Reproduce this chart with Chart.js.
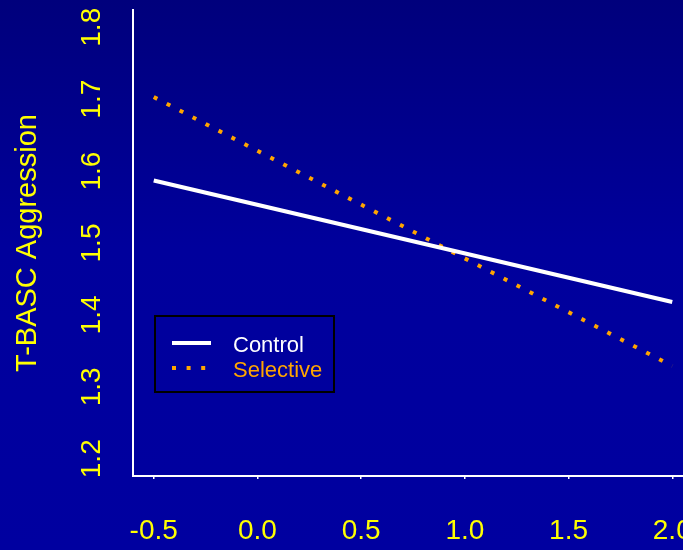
<!DOCTYPE html>
<html>
<head>
<meta charset="utf-8">
<script src="https://cdn.jsdelivr.net/npm/chart.js@4/dist/chart.umd.min.js"></script>
<style>
  html, body { margin: 0; padding: 0; overflow: hidden; background: #000090; }
  #wrap { width: 700px; height: 550px; }
</style>
</head>
<body>
<div id="wrap"><canvas id="c" width="700" height="550"></canvas></div>
<script>
// 데이터 — 그림에서 읽은 값
const X_VALUES = [-0.5, 2.0];
const CONTROL = [1.587, 1.418];
const SELECTIVE = [1.703, 1.329];
const X_TICKS = [-0.5, 0.0, 0.5, 1.0, 1.5, 2.0];
const Y_TICKS = [1.2, 1.3, 1.4, 1.5, 1.6, 1.7, 1.8];
const SERIES_NAMES = ['Control', 'Selective'];
const Y_TITLE = 'T-BASC Aggression';

const YELLOW = '#FFFF00';
const ORANGE = '#FFA500';
const FONT = '"Liberation Sans", Arial, sans-serif';
const DOTS = [4, 10.6];

const toPoints = (ys) => X_VALUES.map((x, i) => ({ x, y: ys[i] }));

// 배경 그라데이션 + 회전된 y 눈금/제목 + 범례
const decor = {
  id: 'decor',
  beforeDraw(chart) {
    const { ctx, width, height } = chart;
    const g = ctx.createLinearGradient(0, 0, 0, height);
    g.addColorStop(0, '#00007C');
    g.addColorStop(0.45, '#00009C');
    g.addColorStop(1, '#0000A0');
    ctx.save();
    ctx.fillStyle = g;
    ctx.fillRect(0, 0, width, height);
    ctx.restore();
  },
  afterDraw(chart) {
    const { ctx } = chart;
    const y = chart.scales.y;
    ctx.save();
    ctx.fillStyle = YELLOW;
    ctx.textAlign = 'center';
    ctx.textBaseline = 'alphabetic';
    ctx.font = `28px ${FONT}`;
    for (const v of Y_TICKS) {
      ctx.save();
      ctx.translate(100, y.getPixelForValue(v));
      ctx.rotate(-Math.PI / 2);
      ctx.fillText(v.toFixed(1), 0, 0);
      ctx.restore();
    }
    ctx.font = `29px ${FONT}`;
    ctx.save();
    ctx.translate(36, (chart.chartArea.top + chart.chartArea.bottom) / 2);
    ctx.rotate(-Math.PI / 2);
    ctx.fillText(Y_TITLE, 0, 0);
    ctx.restore();

    // 범례
    ctx.strokeStyle = '#000000';
    ctx.lineWidth = 2;
    ctx.strokeRect(155, 316, 179, 76);

    ctx.lineWidth = 4;
    ctx.lineCap = 'butt';
    ctx.strokeStyle = '#FFFFFF';
    ctx.beginPath(); ctx.moveTo(172, 343); ctx.lineTo(211, 343); ctx.stroke();
    ctx.strokeStyle = ORANGE;
    ctx.setLineDash(DOTS);
    ctx.beginPath(); ctx.moveTo(172, 368); ctx.lineTo(211, 368); ctx.stroke();
    ctx.setLineDash([]);

    ctx.font = `22px ${FONT}`;
    ctx.textAlign = 'left';
    ctx.fillStyle = '#FFFFFF';
    ctx.fillText(SERIES_NAMES[0], 233, 352);
    ctx.fillStyle = ORANGE;
    ctx.fillText(SERIES_NAMES[1], 233, 377);
    ctx.restore();
  },
};

Chart.defaults.animation = false;

new Chart(document.getElementById('c'), {
  type: 'scatter',
  data: {
    datasets: [
      {
        label: SERIES_NAMES[0], data: toPoints(CONTROL), showLine: true,
        borderColor: '#FFFFFF', borderWidth: 4, pointRadius: 0,
      },
      {
        label: SERIES_NAMES[1], data: toPoints(SELECTIVE), showLine: true,
        borderColor: ORANGE, borderWidth: 4, borderDash: DOTS, borderCapStyle: 'butt',
        pointRadius: 0,
      },
    ],
  },
  options: {
    responsive: false,
    layout: { padding: { top: 10, right: 7, left: 0, bottom: 0 } },
    plugins: { legend: { display: false }, tooltip: { enabled: false } },
    scales: {
      x: {
        type: 'linear', min: -0.6, max: 2.1,
        afterBuildTicks: (s) => { s.ticks = X_TICKS.map((v) => ({ value: v })); },
        afterFit: (s) => { s.height = 74; s.paddingLeft = 0; s.paddingRight = 0; },
        border: { display: true, color: '#FFFFFF', width: 2 },
        grid: { display: true, drawOnChartArea: false, drawTicks: true, tickLength: 3, color: '#FFFFFF', lineWidth: 1.5 },
        ticks: {
          autoSkip: false, maxRotation: 0, padding: 35, color: YELLOW,
          font: { family: FONT, size: 28 },
          callback: (v) => Number(v).toFixed(1),
        },
      },
      y: {
        type: 'linear', min: 1.176, max: 1.824,
        afterFit: (s) => { s.width = 133; },
        border: { display: true, color: '#FFFFFF', width: 2 },
        grid: { display: false },
        ticks: { display: false },
      },
    },
  },
  plugins: [decor],
});
</script>
</body>
</html>
